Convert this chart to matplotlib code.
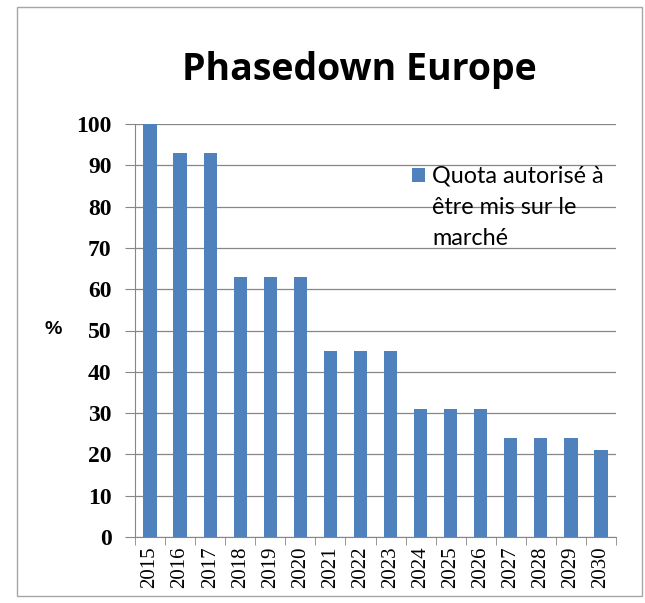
import matplotlib.pyplot as plt
from matplotlib.patches import Rectangle

years = ['2015', '2016', '2017', '2018', '2019', '2020', '2021', '2022',
         '2023', '2024', '2025', '2026', '2027', '2028', '2029', '2030']
quota = [100, 93, 93, 63, 63, 63, 45, 45, 45, 31, 31, 31, 24, 24, 24, 21]
y_ticks = list(range(0, 101, 10))
series_name = 'Quota autorisé à\nêtre mis sur le\nmarché'

W, H = 645, 603
fig = plt.figure(figsize=(W / 100, H / 100), dpi=100)
ax = fig.add_axes([135 / W, 1 - 537 / H, 481 / W, 413 / H])

x = list(range(len(years)))
ax.bar(x, quota, width=0.44, color='#4F81BD', zorder=3)

ax.set_xlim(-0.5, len(years) - 0.5)
ax.set_ylim(0, 100)
ax.set_yticks(y_ticks)
ax.set_yticklabels([str(v) for v in y_ticks], family='Liberation Serif',
                   fontsize=17, fontweight='bold')
ax.set_xticks(x)
ax.set_xticklabels(years, rotation=90, family='Liberation Serif', fontsize=15)
ax.set_xticks([i - 0.5 for i in range(len(years) + 1)], minor=True)
ax.tick_params(axis='x', which='major', length=0, pad=7)
ax.tick_params(axis='x', which='minor', length=6, color='#868686', direction='out')
ax.tick_params(axis='y', length=7, color='#868686', direction='out', pad=10)

ax.grid(axis='y', color='#868686', linewidth=0.9, zorder=0)
for s in ['top', 'right']:
    ax.spines[s].set_visible(False)
for s in ['left', 'bottom']:
    ax.spines[s].set_color('#868686')

fig.text(53 / W, 1 - 330 / H, '%', ha='center', va='center', fontsize=14,
         fontweight='bold', family='Liberation Sans')

fig.text(359 / W, 1 - 70 / H, 'Phasedown Europe', ha='center', va='center',
         fontsize=27, fontweight='bold', family='Open Sans')

# legend drawn by hand so the swatch sits on the first line
fig.patches.append(Rectangle((412 / W, 1 - 182 / H), 13 / W, 14 / H,
                             transform=fig.transFigure, facecolor='#4F81BD',
                             edgecolor='none'))
fig.text(432 / W, 1 - 165 / H, series_name, ha='left', va='top',
         fontsize=16.8, family='Lato', linespacing=1.62)

fig.patches.append(Rectangle((17 / W, 7 / H), 625 / W, 589 / H,
                             transform=fig.transFigure, fill=False,
                             edgecolor='#A6A6A6', linewidth=1))

fig.savefig('out.png', dpi=100)
